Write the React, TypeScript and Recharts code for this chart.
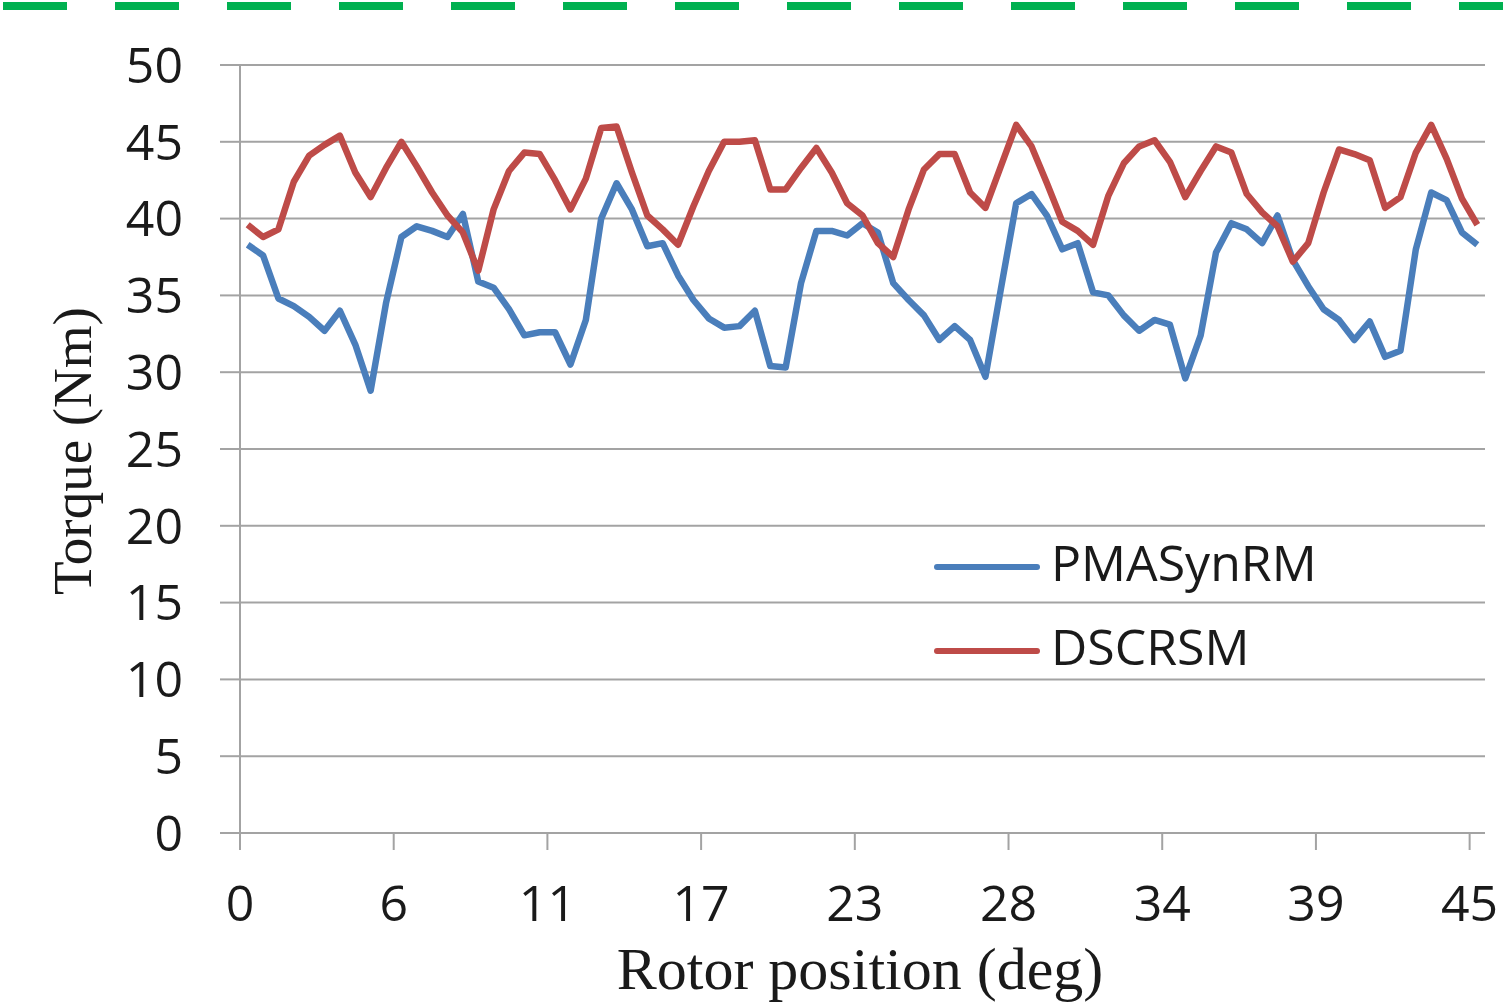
import React from 'react';
import { LineChart, Line, XAxis, YAxis, CartesianGrid, Legend, Label } from 'recharts';

// torque samples, 81 rotor positions from 0 to 45 deg
const pmaSynRM = [
  38.3, 37.6, 34.8, 34.3, 33.6, 32.7, 34.0, 31.8, 28.8, 34.5,
  38.8, 39.5, 39.2, 38.8, 40.3, 35.9, 35.5, 34.1, 32.4, 32.6,
  32.6, 30.5, 33.4, 40.0, 42.3, 40.6, 38.2, 38.4, 36.3, 34.7,
  33.5, 32.9, 33.0, 34.0, 30.4, 30.3, 35.8, 39.2, 39.2, 38.9,
  39.7, 39.1, 35.8, 34.7, 33.7, 32.1, 33.0, 32.1, 29.7, 35.4,
  41.0, 41.6, 40.2, 38.0, 38.4, 35.2, 35.0, 33.7, 32.7, 33.4,
  33.1, 29.6, 32.4, 37.8, 39.7, 39.3, 38.4, 40.2, 37.3, 35.6,
  34.1, 33.4, 32.1, 33.3, 31.0, 31.4, 38.0, 41.7, 41.2, 39.1,
  38.3,
];

const dscrsm = [
  39.6, 38.8, 39.3, 42.4, 44.1, 44.8, 45.4, 43.0, 41.4, 43.3,
  45.0, 43.4, 41.7, 40.2, 39.1, 36.6, 40.6, 43.1, 44.3, 44.2,
  42.5, 40.6, 42.6, 45.9, 46.0, 43.0, 40.2, 39.3, 38.3, 40.8,
  43.1, 45.0, 45.0, 45.1, 41.9, 41.9, 43.3, 44.6, 43.0, 41.0,
  40.2, 38.4, 37.5, 40.6, 43.2, 44.2, 44.2, 41.7, 40.7, 43.4,
  46.1, 44.7, 42.3, 39.8, 39.2, 38.3, 41.5, 43.6, 44.7, 45.1,
  43.7, 41.4, 43.1, 44.7, 44.3, 41.6, 40.4, 39.5, 37.2, 38.4,
  41.7, 44.5, 44.2, 43.8, 40.7, 41.4, 44.3, 46.1, 43.9, 41.3,
  39.6,
];

const xTickLabels = ['0', '6', '11', '17', '23', '28', '34', '39', '45'];
const yTicks = [0, 5, 10, 15, 20, 25, 30, 35, 40, 45, 50];

const seriesInfo = [
  { key: 'PMASynRM', color: '#4A7EBB' },
  { key: 'DSCRSM', color: '#BE4B48' },
];

const data = pmaSynRM.map((v, i) => ({ idx: i, PMASynRM: v, DSCRSM: dscrsm[i] }));

const GRID = '#A3A3A3';
const TICK_FONT = { fontFamily: '"Open Sans", sans-serif', fontSize: 50, fill: '#1a1a1a' };

const LegendBox = () => (
  <div>
    {seriesInfo.map((s) => (
      <div key={s.key} style={{ display: 'flex', alignItems: 'center', height: 84 }}>
        <svg width={110} height={12}>
          <line x1={5} y1={6} x2={105} y2={6} stroke={s.color} strokeWidth={6} strokeLinecap="round" />
        </svg>
        <span
          style={{
            fontFamily: '"Open Sans", sans-serif',
            fontSize: 50,
            color: '#1a1a1a',
            marginLeft: 9,
            position: 'relative',
            top: -5,
            lineHeight: 1,
          }}
        >
          {s.key}
        </span>
      </div>
    ))}
  </div>
);

export default function App() {
  return (
    <div style={{ position: 'absolute', left: 0, top: 0, width: 1503, height: 1006, background: '#fff' }}>
      <LineChart width={1503} height={1006} data={data} margin={{ top: 65, right: 18, bottom: 73, left: 140 }}>
        <CartesianGrid vertical={false} stroke={GRID} strokeWidth={2} />
        <XAxis
          type="number"
          dataKey="idx"
          domain={[-0.5, 80.5]}
          ticks={xTickLabels.map((_, k) => k * 10 - 0.5)}
          tickFormatter={(v: number) => xTickLabels[Math.round((v + 0.5) / 10)]}
          interval={0}
          height={100}
          axisLine={{ stroke: GRID, strokeWidth: 2 }}
          tickLine={{ stroke: GRID, strokeWidth: 2 }}
          tickSize={17}
          tickMargin={35}
          tick={TICK_FONT}
        >
          <Label
            content={() => (
              <text
                x={860}
                y={989}
                textAnchor="middle"
                style={{ fontFamily: '"Liberation Serif", "Times New Roman", serif', fontSize: 60, fill: '#1a1a1a' }}
              >
                Rotor position (deg)
              </text>
            )}
          />
        </XAxis>
        <YAxis
          domain={[0, 50]}
          ticks={yTicks}
          interval={0}
          width={100}
          axisLine={{ stroke: GRID, strokeWidth: 2 }}
          tickLine={{ stroke: GRID, strokeWidth: 2 }}
          tickSize={20}
          tickMargin={37}
          tick={TICK_FONT}
        >
          <Label
            content={() => (
              <text
                x={72}
                y={451}
                textAnchor="middle"
                dominantBaseline="central"
                transform="rotate(-90 72 451)"
                style={{ fontFamily: '"Liberation Serif", "Times New Roman", serif', fontSize: 55, fill: '#1a1a1a' }}
              >
                Torque (Nm)
              </text>
            )}
          />
        </YAxis>
        <Legend
          layout="vertical"
          align="center"
          verticalAlign="middle"
          content={<LegendBox />}
          wrapperStyle={{ left: 932, top: 525, width: 440 }}
        />
        {seriesInfo.map((s) => (
          <Line
            key={s.key}
            dataKey={s.key}
            stroke={s.color}
            strokeWidth={6.5}
            strokeLinejoin="round"
            dot={false}
            activeDot={false}
            isAnimationActive={false}
          />
        ))}
      </LineChart>
      <svg width={1503} height={14} style={{ position: 'absolute', left: 0, top: 0 }}>
        <line x1={3} y1={6} x2={1503} y2={6} stroke="#00B050" strokeWidth={8} strokeDasharray="64 48" />
      </svg>
    </div>
  );
}
